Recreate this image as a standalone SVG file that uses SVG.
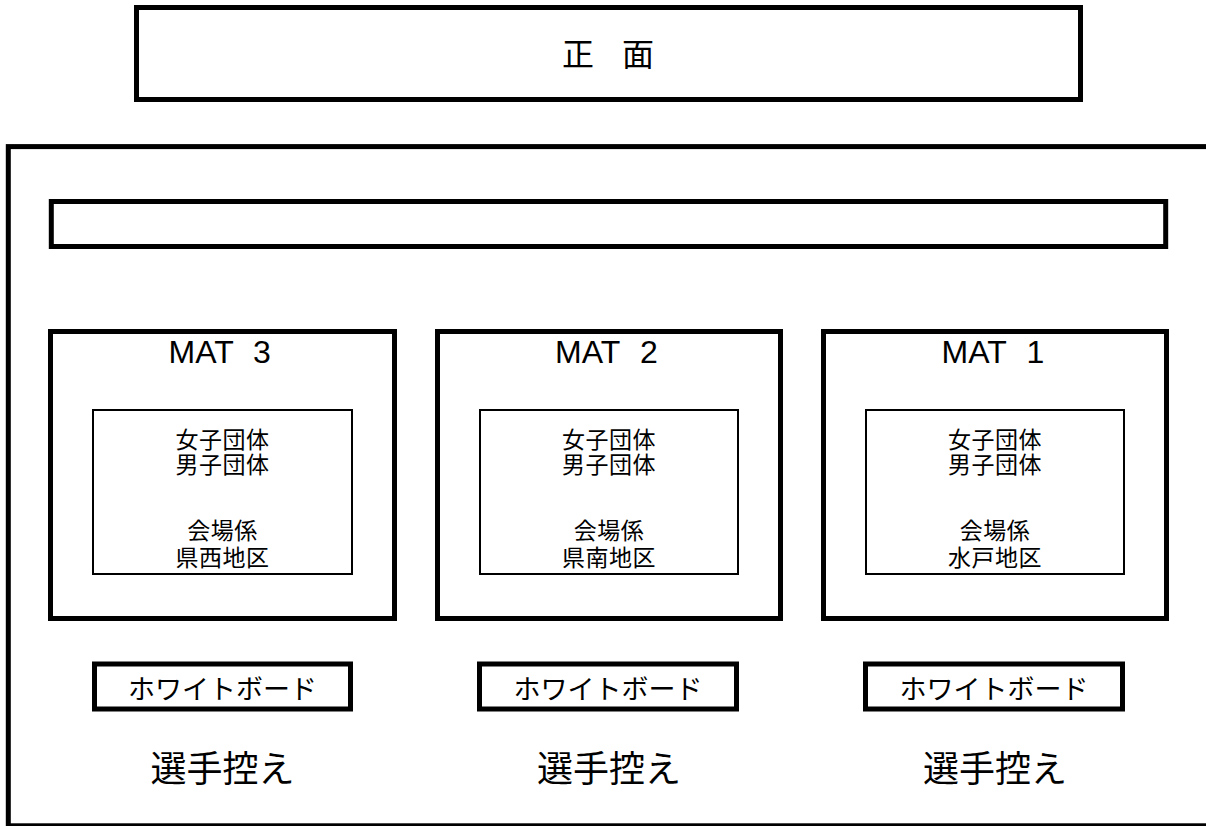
<svg xmlns="http://www.w3.org/2000/svg" width="1206" height="826" viewBox="0 0 1206 826">
<style>
.thick{fill:none;stroke:#000;stroke-width:5}
.thin{fill:none;stroke:#000;stroke-width:2}
.jp{font-family:"Noto Sans CJK JP","Noto Sans CJK SC",sans-serif;fill:#000}
.mat{font-family:"Liberation Sans",Arial,sans-serif;font-size:32px;fill:#000}
.in{font-size:23px;text-anchor:middle;letter-spacing:0.5px}
.wb{font-size:27px;text-anchor:middle}
.ph{font-size:36px;text-anchor:middle}
</style>
<rect width="1206" height="826" fill="#fff"/>
<g id="front">
<rect class="thick" x="136.5" y="7.5" width="944" height="92"/>
<text class="jp" x="562 622" y="66" font-size="32">正面</text>
</g>
<g id="hall">
<rect class="thick" x="8.3" y="146.6" width="1205" height="679.2"/>
</g>
<g id="bar">
<rect class="thick" x="51.3" y="201.5" width="1114.4" height="45"/>
</g>
<g id="mat3">
<rect class="thick" x="50.5" y="331.5" width="344" height="287"/>
<text class="mat" x="168.5" y="363">MAT</text>
<text class="mat" x="262" y="363" text-anchor="middle">3</text>
<rect class="thin" x="93" y="410" width="259" height="164"/>
<text class="jp in" x="222.5" y="448">女子団体</text>
<text class="jp in" x="222.5" y="473">男子団体</text>
<text class="jp in" x="222.5" y="539">会場係</text>
<text class="jp in" x="222.5" y="566">県西地区</text>
</g>
<g id="mat2">
<rect class="thick" x="437.5" y="331.5" width="343" height="287"/>
<text class="mat" x="555" y="363">MAT</text>
<text class="mat" x="649" y="363" text-anchor="middle">2</text>
<rect class="thin" x="480" y="410" width="258" height="164"/>
<text class="jp in" x="609" y="448">女子団体</text>
<text class="jp in" x="609" y="473">男子団体</text>
<text class="jp in" x="609" y="539">会場係</text>
<text class="jp in" x="609" y="566">県南地区</text>
</g>
<g id="mat1">
<rect class="thick" x="823.5" y="331.5" width="343" height="287"/>
<text class="mat" x="941.5" y="363">MAT</text>
<text class="mat" x="1035.5" y="363" text-anchor="middle">1</text>
<rect class="thin" x="866" y="410" width="258" height="164"/>
<text class="jp in" x="995" y="448">女子団体</text>
<text class="jp in" x="995" y="473">男子団体</text>
<text class="jp in" x="995" y="539">会場係</text>
<text class="jp in" x="995" y="566">水戸地区</text>
</g>
<g id="wb3">
<rect class="thick" x="94.5" y="664" width="256" height="45"/>
<text class="jp wb" x="222.5" y="699">ホワイトボード</text>
</g>
<g id="wb2">
<rect class="thick" x="479.5" y="664" width="257" height="45"/>
<text class="jp wb" x="608" y="699">ホワイトボード</text>
</g>
<g id="wb1">
<rect class="thick" x="865.5" y="664" width="257" height="45"/>
<text class="jp wb" x="994" y="699">ホワイトボード</text>
</g>
<g id="bench3"><text class="jp ph" x="222.5" y="782">選手控え</text></g>
<g id="bench2"><text class="jp ph" x="609" y="782">選手控え</text></g>
<g id="bench1"><text class="jp ph" x="995" y="782">選手控え</text></g>
<g id="connectors"/>
</svg>
